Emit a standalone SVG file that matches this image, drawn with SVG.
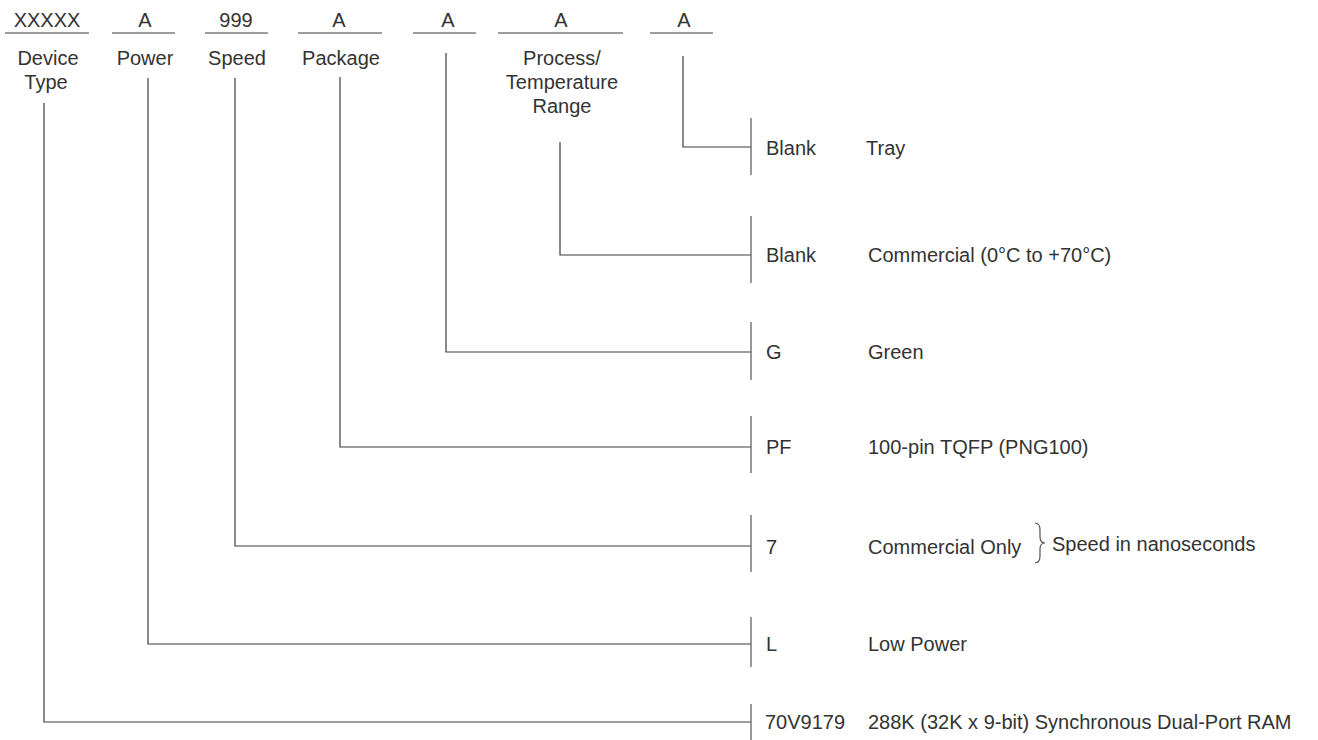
<svg xmlns="http://www.w3.org/2000/svg" width="1318" height="740" viewBox="0 0 1318 740">
<style>
text{font-family:"Liberation Sans",Arial,sans-serif;font-size:20px;fill:#333}
.c{text-anchor:middle}
.ln{stroke:#3c3c3c;stroke-width:1.2;fill:none}
.br{stroke:#555;stroke-width:1.2;fill:none}
</style>
<rect width="1318" height="740" fill="#fff"/>
<g id="fields">
<g id="f-device"><text class="c" x="47" y="27">XXXXX</text><line class="ln" x1="5" y1="33" x2="89" y2="33"/><text class="c" x="48" y="65">Device</text><text class="c" x="46" y="89">Type</text></g>
<g id="f-power"><text class="c" x="145" y="27">A</text><line class="ln" x1="112" y1="33" x2="175" y2="33"/><text class="c" x="145" y="65">Power</text></g>
<g id="f-speed"><text class="c" x="236" y="27">999</text><line class="ln" x1="205" y1="33" x2="268" y2="33"/><text class="c" x="237" y="65">Speed</text></g>
<g id="f-package"><text class="c" x="339" y="27">A</text><line class="ln" x1="298" y1="33" x2="382" y2="33"/><text class="c" x="341" y="65">Package</text></g>
<g id="f-green"><text class="c" x="448" y="27">A</text><line class="ln" x1="413" y1="33" x2="476" y2="33"/></g>
<g id="f-process"><text class="c" x="561" y="27">A</text><line class="ln" x1="498" y1="33" x2="623" y2="33"/><text class="c" x="562" y="65">Process/</text><text class="c" x="562" y="89">Temperature</text><text class="c" x="562" y="113">Range</text></g>
<g id="f-tray"><text class="c" x="684" y="27">A</text><line class="ln" x1="650" y1="33" x2="713" y2="33"/></g>
</g>
<g id="connectors">
<path class="ln" d="M44 103V722H751"/>
<path class="ln" d="M148 78V644H751"/>
<path class="ln" d="M235 78V546H751"/>
<path class="ln" d="M340 77V447H751"/>
<path class="ln" d="M446 53V352H751"/>
<path class="ln" d="M560 142V255H751"/>
<path class="ln" d="M683 56V147H751"/>
</g>
<g id="options">
<g id="o-tray"><line class="br" x1="751" y1="118" x2="751" y2="175"/><text x="766" y="155">Blank</text><text x="866" y="155">Tray</text></g>
<g id="o-commercial"><line class="br" x1="751" y1="216" x2="751" y2="283"/><text x="766" y="262">Blank</text><text x="868" y="262">Commercial (0°C to +70°C)</text></g>
<g id="o-green"><line class="br" x1="751" y1="322" x2="751" y2="380"/><text x="766" y="359">G</text><text x="868" y="359">Green</text></g>
<g id="o-pf"><line class="br" x1="751" y1="416" x2="751" y2="473"/><text x="766" y="454">PF</text><text x="868" y="454">100-pin TQFP (PNG100)</text></g>
<g id="o-speed"><line class="br" x1="751" y1="515" x2="751" y2="572"/><text x="766" y="554">7</text><text x="868" y="554">Commercial Only</text>
<path class="br" d="M1035 523Q1040 523 1040 530V537Q1040 543 1045 543Q1040 543 1040 549V556Q1040 563 1035 563"/>
<text x="1052" y="551">Speed in nanoseconds</text></g>
<g id="o-low"><line class="br" x1="751" y1="617" x2="751" y2="667"/><text x="766" y="651">L</text><text x="868" y="651">Low Power</text></g>
<g id="o-device"><line class="br" x1="751" y1="704" x2="751" y2="740"/><text x="765" y="729">70V9179</text><text x="868" y="729">288K (32K x 9-bit) Synchronous Dual-Port RAM</text></g>
</g>
</svg>
